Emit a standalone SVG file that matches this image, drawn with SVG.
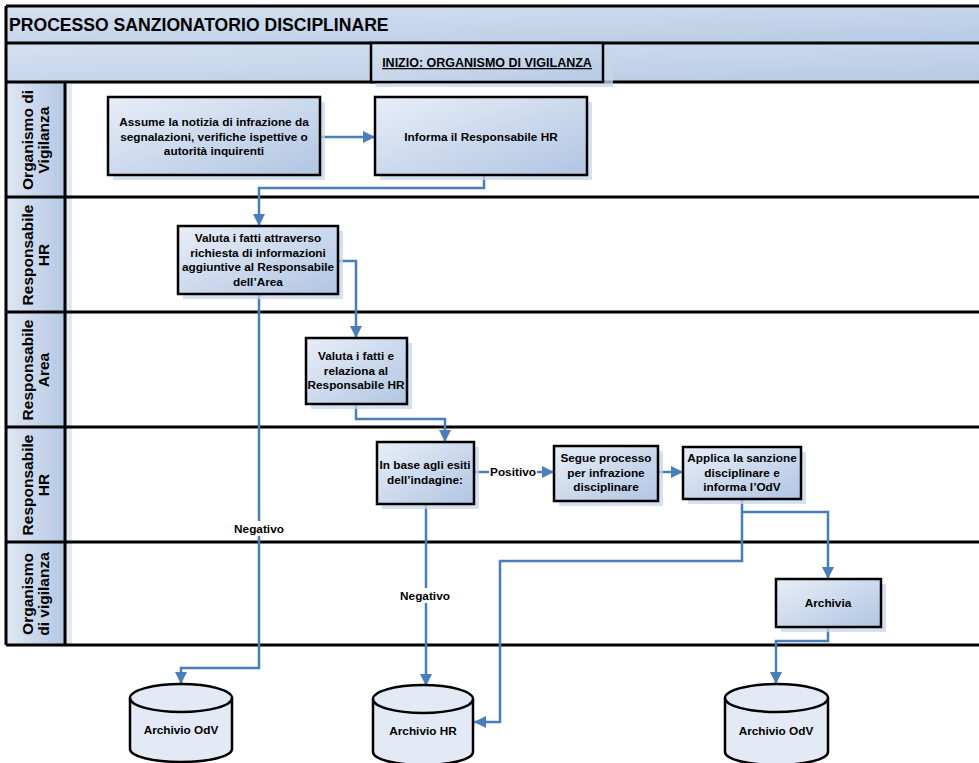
<svg xmlns="http://www.w3.org/2000/svg" width="979" height="763" viewBox="0 0 979 763">
<defs>
<linearGradient id="gBand" x1="0" y1="0" x2="1" y2="1">
<stop offset="0" stop-color="#d6e1f1"/><stop offset="1" stop-color="#b6cae4"/>
</linearGradient>
<linearGradient id="gNode" x1="0" y1="0" x2="1" y2="1">
<stop offset="0" stop-color="#e8eef8"/><stop offset="1" stop-color="#b1c5e2"/>
</linearGradient>
<linearGradient id="gCol" x1="0" y1="0" x2="1" y2="0">
<stop offset="0" stop-color="#dfe7f3"/><stop offset="1" stop-color="#b4c8e3"/>
</linearGradient>
<marker id="arr" markerWidth="12" markerHeight="12" refX="10" refY="5" orient="auto" markerUnits="userSpaceOnUse" viewBox="0 0 10 10">
<path d="M0,0 L10,5 L0,10 Z" fill="#4a7ebb"/>
</marker>
<style>
.ln{stroke:#000;stroke-width:3;fill:none}
.node{fill:url(#gNode);stroke:#000;stroke-width:2.5}
.shd{fill:#c7d6ec;opacity:0.75}
.cyl{fill:#e3eaf6;stroke:#000;stroke-width:2.5}
.t{font-family:"Liberation Sans",Arial,sans-serif;font-weight:bold;font-size:11.8px;fill:#000;text-anchor:middle}
.lane{font-family:"Liberation Sans",Arial,sans-serif;font-weight:bold;font-size:15.5px;fill:#000;text-anchor:middle}
.c{stroke:#4a7ebb;stroke-width:2.5;fill:none;marker-end:url(#arr)}
</style>
</defs>
<rect width="979" height="763" fill="#fff"/>

<g id="frame">
<rect x="6" y="6" width="980" height="37" fill="url(#gBand)"/>
<rect x="6" y="43" width="980" height="39" fill="url(#gBand)"/>
<text x="9" y="31" font-family="Liberation Sans,Arial,sans-serif" font-weight="bold" font-size="17.6" fill="#000">PROCESSO SANZIONATORIO DISCIPLINARE</text>
<rect x="65" y="84" width="7" height="561" fill="#d3dff0" opacity="0.7"/>
<rect x="6" y="82" width="59" height="563" fill="url(#gCol)"/>
<path class="ln" d="M6,6 H979 M6,43 H979 M6,82 H979 M6,197 H979 M6,312 H979 M6,427 H979 M6,542 H979 M6,645 H979 M6,6 V645 M65,82 V645"/>
</g>

<g id="inizio">
<rect x="376" y="48" width="237" height="39" class="shd"/>
<rect x="371" y="43" width="232" height="39" fill="url(#gBand)" stroke="#000" stroke-width="2.5"/>
<text x="487" y="67" font-family="Liberation Sans,Arial,sans-serif" font-weight="bold" font-size="12.5" text-anchor="middle" text-decoration="underline" fill="#000">INIZIO: ORGANISMO DI VIGILANZA</text>
</g>

<g id="lane-labels">
<text class="lane" transform="translate(33,140) rotate(-90)">Organismo di<tspan x="0" dy="16">Vigilanza</tspan></text>
<text class="lane" transform="translate(33,255) rotate(-90)">Responsabile<tspan x="0" dy="16">HR</tspan></text>
<text class="lane" transform="translate(33,370) rotate(-90)">Responsabile<tspan x="0" dy="16">Area</tspan></text>
<text class="lane" transform="translate(33,485) rotate(-90)">Responsabile<tspan x="0" dy="16">HR</tspan></text>
<text class="lane" transform="translate(33,594) rotate(-90)">Organismo<tspan x="0" dy="16">di vigilanza</tspan></text>
</g>

<g id="connectors">
<path class="c" d="M320,137 H375"/>
<path class="c" d="M484,175 V188 H259 V226"/>
<path class="c" d="M338,261 H356 V338"/>
<path class="c" d="M356,404 V419 H445 V442"/>
<path class="c" d="M474,472 H554"/>
<path class="c" d="M658,472 H683"/>
<path class="c" d="M742,499 V512 H828 V579"/>
<path class="c" d="M742,512 V561 H500 V722 H474"/>
<path class="c" d="M828,627 V641 H776 V684"/>
<path class="c" d="M259,294 V668 H181 V684"/>
<path class="c" d="M426,504 V686"/>
<rect x="489" y="464" width="48" height="15" fill="#fff"/>
<text class="t" x="513" y="476">Positivo</text>
<rect x="233" y="521" width="52" height="15" fill="#fff"/>
<text class="t" x="259" y="533">Negativo</text>
<rect x="400" y="588" width="52" height="15" fill="#fff"/>
<text class="t" x="425" y="600">Negativo</text>
</g>

<g id="n1">
<rect x="113" y="102" width="212" height="78" class="shd"/>
<rect x="108" y="97" width="212" height="78" class="node"/>
<text class="t" x="214" y="126">Assume la notizia di infrazione da<tspan x="214" dy="14.5">segnalazioni, verifiche ispettive o</tspan><tspan x="214" dy="14.5">autorità inquirenti</tspan></text>
</g>
<g id="n2">
<rect x="380" y="102" width="212" height="78" class="shd"/>
<rect x="375" y="97" width="212" height="78" class="node"/>
<text class="t" x="481" y="141">Informa il Responsabile HR</text>
</g>
<g id="n3">
<rect x="183" y="231" width="160" height="68" class="shd"/>
<rect x="178" y="226" width="160" height="68" class="node"/>
<text class="t" x="258" y="242">Valuta i fatti attraverso<tspan x="258" dy="14.5">richiesta di informazioni</tspan><tspan x="258" dy="14.5">aggiuntive al Responsabile</tspan><tspan x="258" dy="14.5">dell’Area</tspan></text>
</g>
<g id="n4">
<rect x="311" y="343" width="101" height="66" class="shd"/>
<rect x="306" y="338" width="101" height="66" class="node"/>
<text class="t" x="356" y="360">Valuta i fatti e<tspan x="356" dy="14.5">relaziona al</tspan><tspan x="356" dy="14.5">Responsabile HR</tspan></text>
</g>
<g id="n5">
<rect x="382" y="447" width="97" height="62" class="shd"/>
<rect x="377" y="442" width="97" height="62" class="node"/>
<text class="t" x="425" y="469">In base agli esiti<tspan x="425" dy="14.5">dell’indagine:</tspan></text>
</g>
<g id="n6">
<rect x="559" y="451" width="104" height="55" class="shd"/>
<rect x="554" y="446" width="104" height="55" class="node"/>
<text class="t" x="606" y="462">Segue processo<tspan x="606" dy="14.5">per infrazione</tspan><tspan x="606" dy="14.5">disciplinare</tspan></text>
</g>
<g id="n7">
<rect x="688" y="452" width="118" height="52" class="shd"/>
<rect x="683" y="447" width="118" height="52" class="node"/>
<text class="t" x="742" y="462">Applica la sanzione<tspan x="742" dy="14.5">disciplinare e</tspan><tspan x="742" dy="14.5">informa l’OdV</tspan></text>
</g>
<g id="n8">
<rect x="781" y="584" width="105" height="48" class="shd"/>
<rect x="776" y="579" width="105" height="48" class="node"/>
<text class="t" x="828" y="607">Archivia</text>
</g>

<g id="db1">
<path class="cyl" d="M130,698 A51,14 0 0,1 232,698 V749 A51,13 0 0,1 130,749 Z"/>
<path class="cyl" d="M130,698 A51,14 0 0,0 232,698" fill="none"/>
<text class="t" x="181" y="734">Archivio OdV</text>
</g>
<g id="db2">
<path class="cyl" d="M373,699 A50,14 0 0,1 473,699 V752 A50,13 0 0,1 373,752 Z"/>
<path class="cyl" d="M373,699 A50,14 0 0,0 473,699" fill="none"/>
<text class="t" x="423" y="735">Archivio HR</text>
</g>
<g id="db3">
<path class="cyl" d="M725,698 A51.5,14 0 0,1 828,698 V752 A51.5,13 0 0,1 725,752 Z"/>
<path class="cyl" d="M725,698 A51.5,14 0 0,0 828,698" fill="none"/>
<text class="t" x="776" y="735">Archivio OdV</text>
</g>
</svg>
